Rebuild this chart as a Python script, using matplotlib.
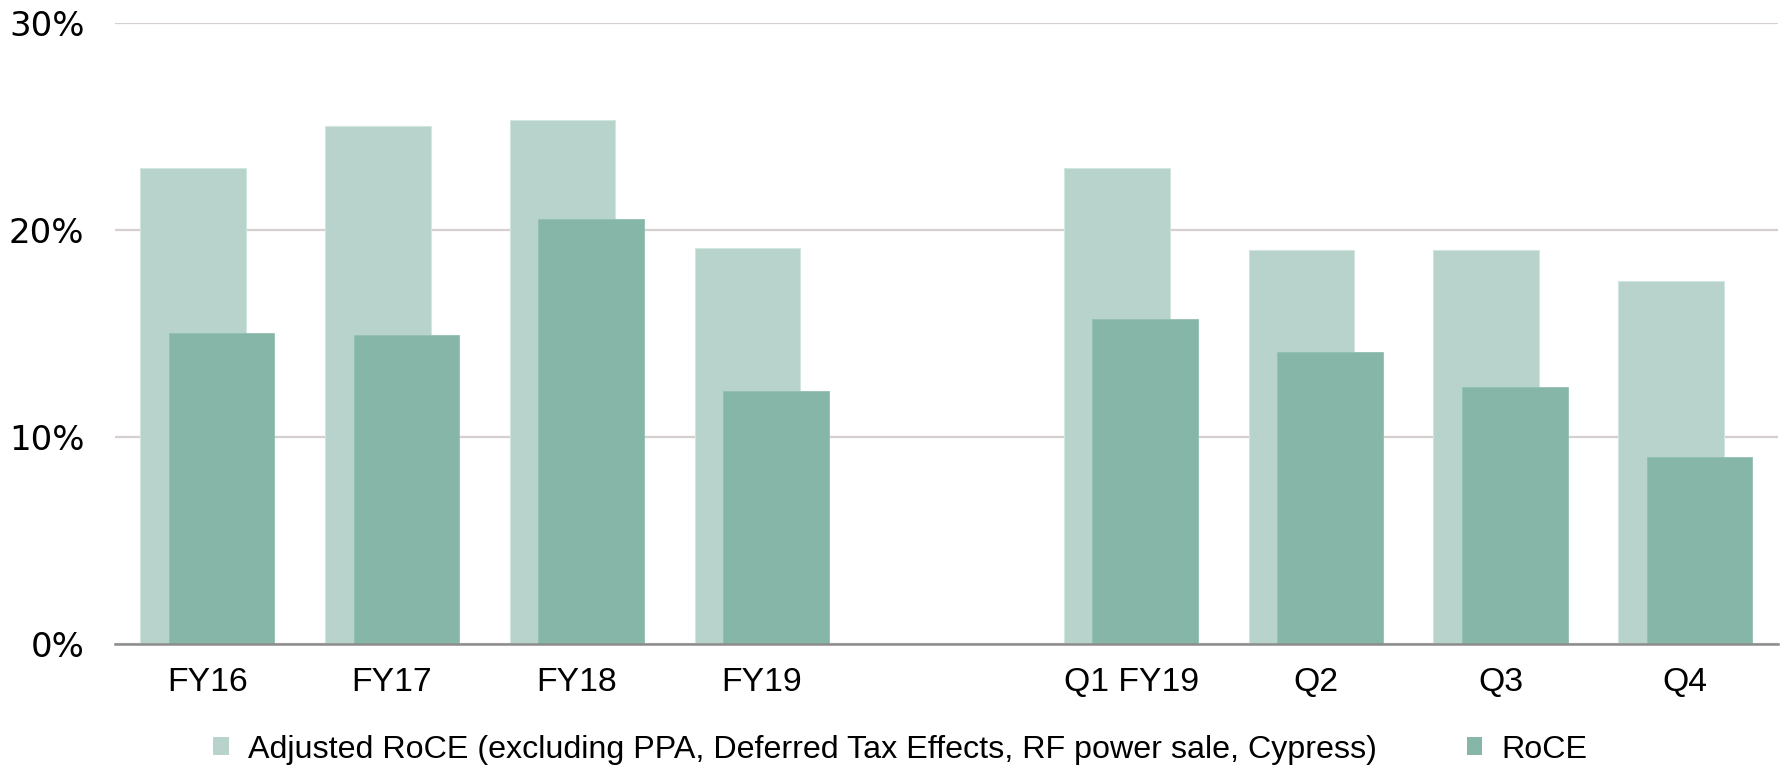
import matplotlib
matplotlib.use("Agg")
import matplotlib.pyplot as plt
from matplotlib.patches import Patch
from matplotlib.ticker import FuncFormatter, MultipleLocator

# Return on capital employed, in percent
categories = ["FY16", "FY17", "FY18", "FY19", "Q1 FY19", "Q2", "Q3", "Q4"]
slots = [0, 1, 2, 3, 5, 6, 7, 8]  # gap between annual and quarterly figures
adjusted_roce = [23.0, 25.0, 25.3, 19.1, 23.0, 19.0, 19.0, 17.5]
roce = [15.0, 14.9, 20.5, 12.2, 15.7, 14.1, 12.4, 9.0]

series_labels = [
    "Adjusted RoCE (excluding PPA, Deferred Tax Effects, RF power sale, Cypress)",
    "RoCE",
]
light_green = "#b7d3cb"
dark_green = "#85b6a8"

fig = plt.figure(figsize=(17.83, 7.65), dpi=100)
ax = fig.add_axes([0.0645, 0.1587, 0.9325, 0.8116])

bar_w = 0.572
shift = 0.077
ax.bar([s - shift for s in slots], adjusted_roce, width=bar_w, color=light_green,
       edgecolor="#d3e5df", linewidth=0.8, zorder=2)
ax.bar([s + shift for s in slots], roce, width=bar_w, color=dark_green,
       edgecolor="#93c0b3", linewidth=0.6, zorder=3)

ax.set_xlim(-0.5, 8.5)
ax.set_ylim(0, 30)
ax.yaxis.set_major_locator(MultipleLocator(10))
ax.yaxis.set_major_formatter(FuncFormatter(lambda v, _: f"{v:.0f}%"))
ax.set_xticks(slots)
ax.set_xticklabels(categories, fontfamily="Liberation Sans", fontsize=24.3)
for lbl in ax.get_yticklabels():
    lbl.set_fontfamily("DejaVu Sans")
    lbl.set_fontsize(24.5)

ax.tick_params(axis="y", length=0, pad=22, colors="#000000")
ax.tick_params(axis="x", length=0, pad=17, colors="#000000")
ax.grid(axis="y", color="#d6cfd0", linewidth=1.6, zorder=0)
ax.set_axisbelow(True)
for side in ("left", "right", "top"):
    ax.spines[side].set_visible(False)
ax.spines["bottom"].set_color("#8c8c8c")
ax.spines["bottom"].set_linewidth(1.8)
ax.spines["bottom"].set_zorder(4)

handles = [Patch(facecolor=light_green, edgecolor="none"),
           Patch(facecolor=dark_green, edgecolor="none")]
fig.legend(handles, series_labels, loc="center", bbox_to_anchor=(0.505, 0.02),
           ncol=2, frameon=False, prop={"family": "Liberation Sans", "size": 23.2},
           handlelength=0.48, handleheight=0.48, handletextpad=0.6,
           columnspacing=2.8, borderpad=0)

fig.savefig("out.png", dpi=100)
